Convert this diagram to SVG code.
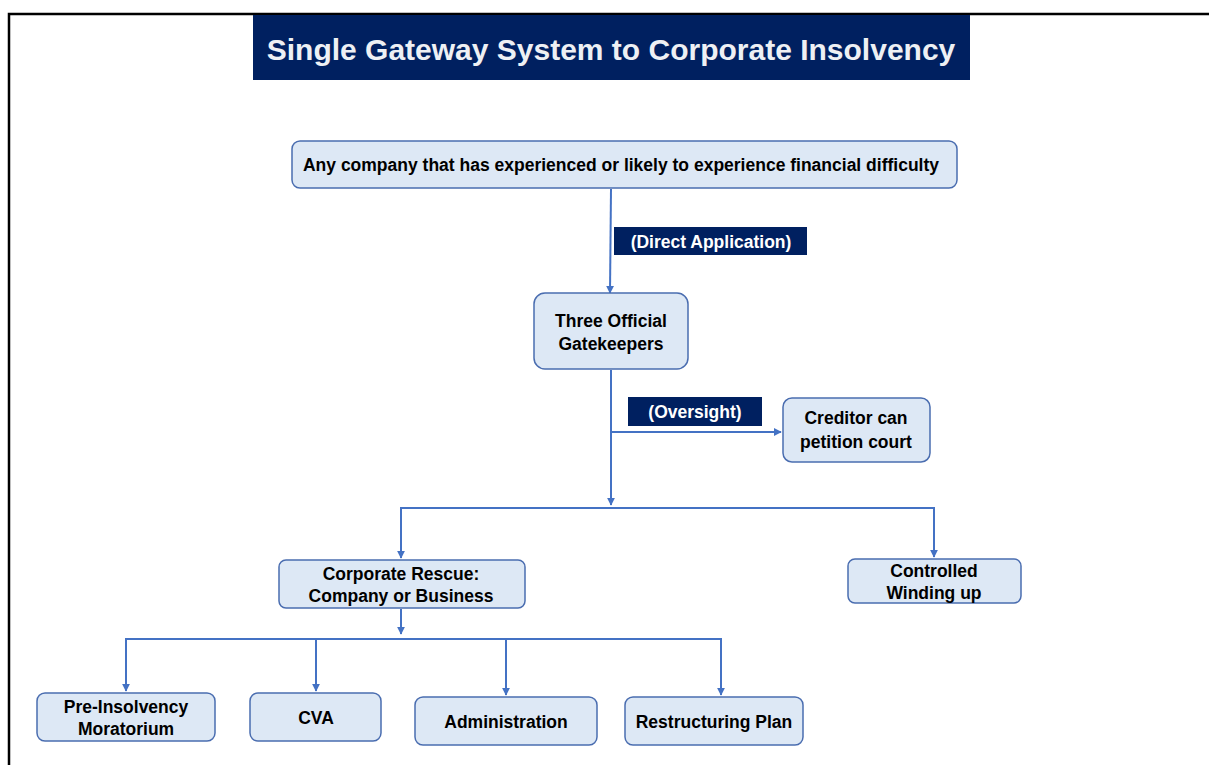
<svg xmlns="http://www.w3.org/2000/svg" width="1209" height="765" viewBox="0 0 1209 765">
  <defs>
    <marker id="arrow" viewBox="0 0 10 10" refX="9" refY="5" markerWidth="8" markerHeight="8" markerUnits="userSpaceOnUse" orient="auto">
      <path d="M0,0 L10,5 L0,10 z" fill="#4472c4"/>
    </marker>
    <style>
      .node { fill: #dde8f5; stroke: #4a6db0; stroke-width: 1.5; }
      .txt { font-family: "Liberation Sans", Arial, sans-serif; font-weight: bold; font-size: 17.5px; fill: #000; text-anchor: middle; }
      .tag { fill: #002060; }
      .tagtxt { font-family: "Liberation Sans", Arial, sans-serif; font-weight: bold; font-size: 17.5px; fill: #ffffff; text-anchor: middle; }
      .conn { fill: none; stroke: #4472c4; stroke-width: 2; }
    </style>
  </defs>
  <rect width="1209" height="765" fill="#ffffff"/>
  <!-- frame -->
  <path d="M9,765 V14 H1209" fill="none" stroke="#000" stroke-width="2.5"/>

  <!-- heading -->
  <g id="title">
    <rect x="253" y="15" width="717" height="65" fill="#002060"/>
    <text x="611" y="60" font-family="Liberation Sans, Arial, sans-serif" font-weight="bold" font-size="30" fill="#eef0f4" text-anchor="middle">Single Gateway System to Corporate Insolvency</text>
  </g>

  <!-- connectors -->
  <g id="connectors">
    <path class="conn" d="M611,189 L610,293" marker-end="url(#arrow)"/>
    <path class="conn" d="M611,370 V505" marker-end="url(#arrow)"/>
    <path class="conn" d="M611,432 H781" marker-end="url(#arrow)"/>
    <path class="conn" d="M401,508 H934"/>
    <path class="conn" d="M401,507 V558" marker-end="url(#arrow)"/>
    <path class="conn" d="M934,507 V557" marker-end="url(#arrow)"/>
    <path class="conn" d="M401,609 V634" marker-end="url(#arrow)"/>
    <path class="conn" d="M126,639 H721"/>
    <path class="conn" d="M126,638 V691" marker-end="url(#arrow)"/>
    <path class="conn" d="M316,639 V691" marker-end="url(#arrow)"/>
    <path class="conn" d="M506,639 V695" marker-end="url(#arrow)"/>
    <path class="conn" d="M721,638 V695" marker-end="url(#arrow)"/>
  </g>

  <!-- edge labels -->
  <g id="label-direct">
    <rect class="tag" x="614" y="227" width="193" height="28"/>
    <text class="tagtxt" x="711" y="248">(Direct Application)</text>
  </g>
  <g id="label-oversight">
    <rect class="tag" x="628" y="397" width="134" height="29"/>
    <text class="tagtxt" x="695" y="418">(Oversight)</text>
  </g>

  <!-- nodes -->
  <g id="node-company">
    <rect class="node" x="292" y="141" width="665" height="47" rx="8"/>
    <text class="txt" x="621" y="171">Any company that has experienced or likely to experience financial difficulty</text>
  </g>
  <g id="node-gatekeepers">
    <rect class="node" x="534" y="293" width="154" height="76" rx="11"/>
    <text class="txt" x="611" y="327">Three Official</text>
    <text class="txt" x="611" y="350">Gatekeepers</text>
  </g>
  <g id="node-creditor">
    <rect class="node" x="783" y="398" width="147" height="64" rx="9"/>
    <text class="txt" x="856" y="424">Creditor can</text>
    <text class="txt" x="856" y="448">petition court</text>
  </g>
  <g id="node-rescue">
    <rect class="node" x="279" y="560" width="246" height="48" rx="7"/>
    <text class="txt" x="401" y="580">Corporate Rescue:</text>
    <text class="txt" x="401" y="602">Company or Business</text>
  </g>
  <g id="node-winding">
    <rect class="node" x="848" y="559" width="173" height="44" rx="7"/>
    <text class="txt" x="934" y="577">Controlled</text>
    <text class="txt" x="934" y="599">Winding up</text>
  </g>
  <g id="node-moratorium">
    <rect class="node" x="37" y="693" width="178" height="48" rx="8"/>
    <text class="txt" x="126" y="713">Pre-Insolvency</text>
    <text class="txt" x="126" y="735">Moratorium</text>
  </g>
  <g id="node-cva">
    <rect class="node" x="250" y="693" width="131" height="48" rx="8"/>
    <text class="txt" x="316" y="724">CVA</text>
  </g>
  <g id="node-administration">
    <rect class="node" x="415" y="697" width="182" height="48" rx="8"/>
    <text class="txt" x="506" y="728">Administration</text>
  </g>
  <g id="node-restructuring">
    <rect class="node" x="625" y="697" width="178" height="48" rx="8"/>
    <text class="txt" x="714" y="728">Restructuring Plan</text>
  </g>
</svg>
